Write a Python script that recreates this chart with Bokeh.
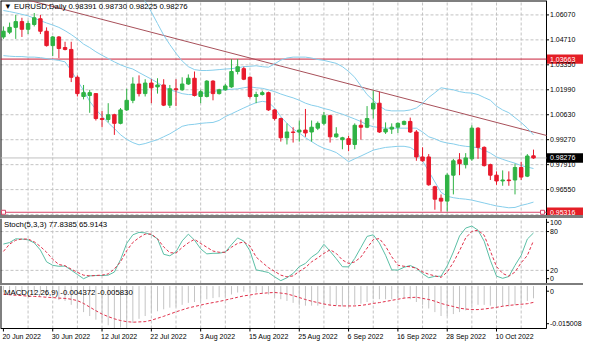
import numpy as np
from bokeh.plotting import figure
from bokeh.models import ColumnDataSource, Range1d, Label, Div
from bokeh.layouts import column
from bokeh.embed import file_html
from bokeh.resources import INLINE

nan = float("nan")

# ---------------- data (EURUSD daily, 20 Jun 2022 .. 18 Oct 2022) ----------------
open_ = [1.04868, 1.05129, 1.05391, 1.05704, 1.05286, 1.05548, 1.05861, 1.05181, 1.04397, 1.04868,
         1.04292, 1.04188, 1.02671, 1.01625, 1.01677, 1.01782, 1.00422, 1.00370, 1.00631, 1.00161,
         1.00893, 1.01416, 1.02305, 1.01782, 1.02357, 1.02148, 1.02253, 1.01154, 1.02043, 1.01991,
         1.02305, 1.02619, 1.01625, 1.01625, 1.02462, 1.01782, 1.01991, 1.02148, 1.02985, 1.03142,
         1.02671, 1.01625, 1.01730, 1.01834, 1.00893, 1.00422, 0.99376, 0.99690, 0.99690, 0.99794,
         0.99690, 0.99899, 1.00161, 1.00579, 0.99428, 0.99271, 0.99324, 0.99010, 1.00056, 0.99951,
         1.00945, 1.01259, 0.99690, 0.99847, 0.99951, 1.00108, 1.00265, 0.99690, 0.98330, 0.98330,
         0.96709, 0.96081, 0.95924, 0.97336, 0.98173, 0.97912, 0.98226, 0.99899, 0.98853, 0.97912,
         0.97336, 0.97023, 0.97075, 0.97075, 0.97755, 0.97284, 0.98391]
high = [1.05443, 1.05652, 1.06071, 1.05914, 1.05757, 1.06175, 1.06071, 1.05391, 1.04920, 1.04920,
        1.04606, 1.04606, 1.02776, 1.02253, 1.01991, 1.01782, 1.00841, 1.01259, 1.00684, 1.00997,
        1.02043, 1.02671, 1.02776, 1.02566, 1.02566, 1.02619, 1.02566, 1.02253, 1.02566, 1.02671,
        1.02828, 1.02985, 1.01991, 1.02514, 1.02514, 1.02043, 1.02305, 1.03665, 1.03665, 1.03246,
        1.02723, 1.01887, 1.01939, 1.01887, 1.00945, 1.00474, 1.00161, 0.99951, 1.00317, 1.00945,
        1.00317, 1.00265, 1.00788, 1.00631, 0.99951, 0.99428, 0.99481, 1.00161, 1.00370, 1.01102,
        1.01939, 1.01887, 1.00213, 1.00161, 1.00213, 1.00317, 1.00474, 0.99794, 0.98853, 0.98487,
        0.96761, 0.96290, 0.97441, 0.98226, 0.98539, 0.98539, 1.00056, 0.99951, 0.98905, 0.97964,
        0.97546, 0.97598, 0.97546, 0.97964, 0.98069, 0.98487, 0.98730]
low = [1.04763, 1.05025, 1.04763, 1.04868, 1.05025, 1.05443, 1.05025, 1.04345, 1.03822, 1.03717,
       1.04135, 1.02410, 1.01625, 1.01468, 1.00736, 1.00317, 0.99951, 1.00213, 0.99533, 1.00108,
       1.00841, 1.01259, 1.01625, 1.01625, 1.01259, 1.01782, 1.01102, 1.00997, 1.01102, 1.01939,
       1.02253, 1.01625, 1.01259, 1.01573, 1.01416, 1.01730, 1.01939, 1.02096, 1.02828, 1.02514,
       1.01520, 1.01259, 1.01677, 1.00841, 1.00317, 0.99167, 0.99010, 0.99115, 0.99167, 0.99428,
       0.99167, 0.99794, 1.00056, 0.99115, 0.99376, 0.98749, 0.98644, 0.98749, 0.99271, 0.99899,
       1.00422, 0.99638, 0.99585, 0.99585, 0.99638, 1.00056, 0.99638, 0.98121, 0.98069, 0.96761,
       0.95454, 0.95349, 0.95350, 0.96290, 0.97336, 0.97703, 0.98121, 0.98226, 0.97807, 0.97075,
       0.96813, 0.96761, 0.96761, 0.96290, 0.97075, 0.97232, 0.98225]
close = [1.05181, 1.05391, 1.05704, 1.05286, 1.05600, 1.05914, 1.05181, 1.04397, 1.04868, 1.04240,
         1.04188, 1.02671, 1.01782, 1.01834, 1.01834, 1.00422, 1.00370, 1.00631, 1.00161, 1.00893,
         1.01416, 1.02305, 1.01782, 1.02357, 1.02096, 1.02253, 1.01154, 1.02043, 1.01991, 1.02305,
         1.02619, 1.01677, 1.01887, 1.02462, 1.01782, 1.01991, 1.02200, 1.02985, 1.03246, 1.02566,
         1.01625, 1.01730, 1.01834, 1.00893, 1.00422, 0.99376, 0.99690, 0.99664, 0.99794, 0.99638,
         0.99951, 1.00161, 1.00579, 0.99428, 0.99585, 0.99376, 0.99010, 1.00056, 0.99951, 1.00422,
         1.01259, 0.99690, 0.99847, 0.99951, 1.00161, 1.00265, 0.99690, 0.98330, 0.98121, 0.96813,
         0.96029, 0.95924, 0.97336, 0.98121, 0.97964, 0.98278, 0.99899, 0.98853, 0.97859, 0.97336,
         0.97023, 0.97075, 0.97040, 0.97755, 0.97232, 0.98382, 0.98276]

bb_upper = [nan] * 22 + [
    1.0748, 1.0680, 1.0623, 1.0560, 1.0497, 1.0445, 1.0398, 1.0356, 1.0325, 1.0309,
    1.0304, 1.0304, 1.0306, 1.0309, 1.0312, 1.0314, 1.0319, 1.0325, 1.0327, 1.0330,
    1.0325, 1.0322, 1.0340, 1.0361, 1.0372, 1.0377, 1.0377, 1.0377, 1.0372, 1.0364,
    1.0359, 1.0351, 1.0343, 1.0325, 1.0299, 1.0267, 1.0220, 1.0173, 1.0142, 1.0110,
    1.0089, 1.0084, 1.0084, 1.0084, 1.0089, 1.0100, 1.0126, 1.0157, 1.0183, 1.0210,
    1.0204, 1.0199, 1.0189, 1.0183, 1.0181, 1.0173, 1.0157, 1.0142, 1.0110, 1.0089,
    1.0074, 1.0047, 1.0021, 0.9990, 0.9953]
bb_middle = [1.0631, 1.0625, 1.0618, 1.0610, 1.0602, 1.0589, 1.0576, 1.0563, 1.0552, 1.0539,
             1.0521, 1.0500, 1.0476, 1.0448, 1.0429, 1.0406, 1.0387, 1.0369, 1.0351, 1.0335,
             1.0322, 1.0312, 1.0293, 1.0275, 1.0257, 1.0238, 1.0215, 1.0199, 1.0189, 1.0178,
             1.0173, 1.0173, 1.0178, 1.0183, 1.0189, 1.0196, 1.0199, 1.0202, 1.0204, 1.0210,
             1.0215, 1.0210, 1.0207, 1.0199, 1.0189, 1.0176, 1.0165, 1.0155, 1.0142, 1.0126,
             1.0115, 1.0108, 1.0097, 1.0089, 1.0076, 1.0066, 1.0053, 1.0040, 1.0026, 1.0008,
             0.9998, 0.9993, 0.9990, 0.9990, 0.9990, 0.9990, 0.9990, 0.9990, 0.9969, 0.9943,
             0.9932, 0.9917, 0.9909, 0.9904, 0.9896, 0.9891, 0.9888, 0.9883, 0.9870, 0.9854,
             0.9833, 0.9820, 0.9809, 0.9799, 0.9786, 0.9778, 0.9770]
bb_lower = [1.0385, 1.0382, 1.0380, 1.0380, 1.0377, 1.0377, 1.0374, 1.0369, 1.0364, 1.0359,
            1.0351, 1.0303, 1.0249, 1.0196, 1.0136, 1.0092, 1.0055, 1.0019, 0.9988, 0.9954,
            0.9929, 0.9911, 0.9899, 0.9906, 0.9917, 0.9927, 0.9943, 0.9959, 0.9979, 1.0000,
            1.0008, 1.0011, 1.0016, 1.0019, 1.0021, 1.0032, 1.0053, 1.0068, 1.0084, 1.0100,
            1.0115, 1.0129, 1.0136, 1.0131, 1.0100, 1.0053, 1.0016, 0.9985, 0.9964, 0.9938,
            0.9917, 0.9896, 0.9880, 0.9870, 0.9857, 0.9833, 0.9807, 0.9823, 0.9838, 0.9854,
            0.9870, 0.9878, 0.9885, 0.9888, 0.9891, 0.9891, 0.9885, 0.9864, 0.9812, 0.9755,
            0.9697, 0.9640, 0.9619, 0.9611, 0.9606, 0.9603, 0.9598, 0.9590, 0.9582, 0.9574,
            0.9566, 0.9561, 0.9556, 0.9558, 0.9569, 0.9577, 0.9587]

stoch_main = [60.7, 63.0, 68.8, 68.4, 67.2, 62.5, 51.4, 33.2, 27.8, 26.3,
              26.6, 20.4, 13.7, 7.1, 11.5, 12.0, 12.0, 12.6, 17.4, 36.5,
              61.7, 75.0, 78.7, 78.0, 75.0, 68.7, 44.9, 42.5, 48.7, 65.6,
              76.0, 66.8, 53.3, 45.5, 46.4, 46.5, 48.4, 59.7, 70.2, 65.3,
              50.2, 20.8, 18.8, 16.7, 10.0, 4.1, 8.6, 15.2, 25.8, 30.7,
              40.6, 47.0, 60.3, 49.6, 38.1, 25.6, 25.4, 38.4, 55.4, 72.5,
              75.0, 62.3, 43.4, 20.8, 20.4, 24.8, 27.5, 23.3, 14.9, 8.6,
              10.8, 10.9, 26.9, 48.4, 73.1, 85.4, 88.6, 82.1, 65.1, 35.6,
              11.1, 7.7, 10.5, 27.8, 43.1, 68.4, 77.8385]
stoch_signal = [49.3, 60.6, 66.6, 68.4, 68.5, 64.1, 56.9, 48.0, 37.1, 29.0,
                27.2, 21.9, 17.0, 12.6, 11.5, 12.1, 12.7, 14.5, 22.2, 33.2,
                50.4, 63.2, 70.6, 76.1, 76.1, 68.8, 56.3, 47.4, 46.7, 55.4,
                62.6, 68.0, 61.6, 55.8, 49.9, 48.0, 48.0, 55.8, 61.7, 63.9,
                57.7, 40.6, 32.2, 24.2, 18.5, 12.6, 10.0, 11.5, 18.5, 24.4,
                33.2, 39.3, 46.2, 51.8, 46.2, 36.0, 30.7, 33.1, 40.6, 54.4,
                67.6, 69.1, 57.3, 41.0, 28.0, 26.3, 25.6, 23.3, 17.7, 14.0,
                11.5, 9.2, 17.4, 32.2, 50.4, 70.2, 80.3, 82.1, 74.3, 50.0,
                25.8, 15.2, 11.1, 17.4, 31.8, 43.0, 65.9143]

macd_main = [-0.0023, -0.0025, -0.0025, -0.0027, -0.0027, -0.0027, -0.0030, -0.0037, -0.0043, -0.0050,
             -0.0053, -0.0067, -0.0080, -0.0093, -0.0107, -0.0120, -0.0130, -0.0140, -0.0150, -0.0148,
             -0.0142, -0.0132, -0.0117, -0.0107, -0.0097, -0.0090, -0.0083, -0.0077, -0.0073, -0.0067,
             -0.0060, -0.0057, -0.0053, -0.0047, -0.0043, -0.0040, -0.0037, -0.0030, -0.0023, -0.0020,
             -0.0020, -0.0023, -0.0027, -0.0030, -0.0037, -0.0047, -0.0053, -0.0060, -0.0067, -0.0070,
             -0.0070, -0.0070, -0.0067, -0.0070, -0.0070, -0.0073, -0.0073, -0.0067, -0.0063, -0.0057,
             -0.0047, -0.0047, -0.0047, -0.0047, -0.0043, -0.0043, -0.0047, -0.0057, -0.0067, -0.0080,
             -0.0093, -0.0107, -0.0107, -0.0100, -0.0093, -0.0087, -0.0073, -0.0067, -0.0067, -0.0070,
             -0.0073, -0.0073, -0.0073, -0.0067, -0.0063, -0.0053, -0.004372]
macd_signal = [-0.0029, -0.0031, -0.0033, -0.0034, -0.0036, -0.0037, -0.0038, -0.0040, -0.0041, -0.0043,
               -0.0044, -0.0047, -0.0052, -0.0062, -0.0075, -0.0088, -0.0100, -0.0109, -0.0117, -0.0123,
               -0.0127, -0.0129, -0.0128, -0.0127, -0.0122, -0.0115, -0.0108, -0.0100, -0.0092, -0.0085,
               -0.0078, -0.0073, -0.0068, -0.0063, -0.0059, -0.0055, -0.0050, -0.0045, -0.0040, -0.0035,
               -0.0032, -0.0028, -0.0026, -0.0024, -0.0023, -0.0025, -0.0028, -0.0034, -0.0041, -0.0048,
               -0.0054, -0.0059, -0.0064, -0.0068, -0.0070, -0.0071, -0.0071, -0.0071, -0.0069, -0.0066,
               -0.0062, -0.0059, -0.0055, -0.0051, -0.0047, -0.0043, -0.0041, -0.0040, -0.0044, -0.0048,
               -0.0054, -0.0062, -0.0068, -0.0073, -0.0079, -0.0082, -0.0084, -0.0084, -0.0082, -0.0079,
               -0.0076, -0.0072, -0.0069, -0.0067, -0.0065, -0.0063, -0.005830]

date_ticks = [0, 8, 16, 24, 32, 40, 48, 56, 64, 72, 80]
date_labels = ["20 Jun 2022", "30 Jun 2022", "12 Jul 2022", "22 Jul 2022", "3 Aug 2022",
               "15 Aug 2022", "25 Aug 2022", "6 Sep 2022", "16 Sep 2022", "28 Sep 2022", "10 Oct 2022"]
grid_bars = list(range(4, 88, 4))
price_ticks = [1.06070, 1.04710, 1.03350, 1.01990, 1.00630, 0.99270, 0.97910, 0.96550]
price_tick_labels = ["1.06070", "1.04710", "1.03350", "1.01990", "1.00630", "0.99270", "0.97910", "0.96550"]
grid_prices = price_ticks + [0.95190]
hline_upper = 1.03663
hline_lower = 0.95316
bid_price = 0.98276
tag_prices = [hline_upper, bid_price, hline_lower]
tag_labels = ["1.03663", "0.98276", "0.95316"]
trend_x = [0.0, 88.11]
trend_y = [1.0723, 0.9950]
stoch_levels = [20, 80]
stoch_label_text = ["100", "80", "20", "0"]
macd_label_text = ["0", "-0.015008"]
header_main = "\u25bc EURUSD,Daily  0.98391 0.98730 0.98225 0.98276"
header_stoch = "Stoch(5,3,3) 77.8385 65.9143"
header_macd = "MACD(12,26,9) -0.004372 -0.005830"

# ---------------- styling / geometry ----------------
GREEN = "#2fb344"
RED = "#e8192c"
BBC = "#87ceeb"
TREND = "#a8505a"
HLC = "#c8203a"
HL2 = "#d9466a"
GRID = "#c3c3c3"
STM = "#5cbfa6"
SIG = "#e0304a"
HIST = "#c4c4c4"
TAGRED = "#e41e26"
FONT = "Liberation Sans"
FS = "7px"
FSH = "7.8px"

W = 583            # page width
CW = 546           # chart area width (to the price-scale border)
H1, H2, H3, HB = 215, 65, 43, 18
X0, X1 = -0.474, 88.11          # chart area in bar units
PXX = (X1 - X0) / CW            # bar units per pixel
XE = X0 + W * PXX               # right edge of page (price scale area)
xr = Range1d(X0, XE)
idx = list(range(len(close)))


def panel(h, y0, y1):
    p = figure(width=W, height=h, x_range=xr, y_range=Range1d(y0, y1), output_backend="svg",
               toolbar_location=None, x_axis_location=None, y_axis_location=None,
               min_border_left=0, min_border_right=0, min_border_top=0, min_border_bottom=0)
    p.outline_line_color = None
    p.background_fill_color = "white"
    p.border_fill_color = "white"
    p.xgrid.visible = False
    p.ygrid.visible = False
    return p


def frame(p, yb, yt, top=False):
    n = len(grid_bars)
    p.segment(x0=grid_bars, y0=[yb] * n, x1=grid_bars, y1=[yt] * n,
              line_color=GRID, line_width=1, line_dash="3 2")
    p.segment(x0=[X1], y0=[yb], x1=[X1], y1=[yt], line_color="black", line_width=1)
    p.segment(x0=[X0], y0=[yb], x1=[X0], y1=[yt], line_color="black", line_width=2)
    if top:
        p.segment(x0=[X0], y0=[yt], x1=[X1], y1=[yt], line_color="black", line_width=2)


def hgrid(p, levels):
    n = len(levels)
    p.segment(x0=[X0] * n, y0=levels, x1=[X1] * n, y1=levels,
              line_color=GRID, line_width=1, line_dash="3 2")


def scale_text(p, ys, texts, color="black"):
    n = len(ys)
    p.segment(x0=[X1] * n, y0=ys, x1=[X1 + 2.5 * PXX] * n, y1=ys, line_color="black", line_width=1)
    for y, t in zip(ys, texts):
        p.add_layout(Label(x=X1 + 3.5 * PXX, y=y, text=t, text_align="left", text_baseline="middle",
                           text_font=FONT, text_font_size=FS, text_color=color))


def header(p, y, text):
    p.add_layout(Label(x=X0 + 3.5 * PXX, y=y, text=text, text_align="left", text_baseline="middle",
                       text_font=FONT, text_font_size=FSH, text_color="black"))


# ---------------- main price panel ----------------
YB1, YT1 = 0.95140, 1.06855
PY1 = (YT1 - YB1) / H1
p1 = panel(H1, YB1, YT1)
hgrid(p1, grid_prices)
frame(p1, YB1, YT1, top=True)

p1.segment(x0=[X0], y0=[bid_price], x1=[X1], y1=[bid_price], line_color="#c0c0c0", line_width=1)
p1.segment(x0=[X0], y0=[hline_upper], x1=[X1], y1=[hline_upper], line_color=HLC, line_width=1)
p1.segment(x0=[X0], y0=[hline_lower], x1=[X1], y1=[hline_lower], line_color=HL2, line_width=1)
p1.line(trend_x, trend_y, line_color=TREND, line_width=1)

p1.line(idx, bb_upper, line_color=BBC, line_width=1)
p1.line(idx, bb_middle, line_color=BBC, line_width=1)
p1.line(idx, bb_lower, line_color=BBC, line_width=1)

colors = [GREEN if c >= o else RED for o, c in zip(open_, close)]
src = ColumnDataSource(dict(x=idx, h=high, l=low,
                            top=[max(o, c) for o, c in zip(open_, close)],
                            bot=[min(o, c) for o, c in zip(open_, close)],
                            color=colors))
p1.segment(x0="x", y0="l", x1="x", y1="h", line_color="color", line_width=1, source=src)
p1.vbar(x="x", width=0.56, top="top", bottom="bot", fill_color="color", line_color="color",
        line_width=1, source=src)

p1.scatter([X0 + 3 * PXX, X1 - 4 * PXX], [hline_lower, hline_lower], marker="square", size=4,
           fill_color="white", line_color=HL2, line_width=1)

scale_text(p1, price_ticks, price_tick_labels)
tag_fill = [TAGRED, "#000000", TAGRED]
p1.quad(left=[X1 + 0.5 * PXX] * 3, right=[XE] * 3,
        top=[t + 4.7 * PY1 for t in tag_prices], bottom=[t - 4.7 * PY1 for t in tag_prices],
        fill_color=tag_fill, line_color=None)
for t, s in zip(tag_prices, tag_labels):
    p1.add_layout(Label(x=X1 + 3.5 * PXX, y=t, text=s, text_align="left", text_baseline="middle",
                        text_font=FONT, text_font_size=FS, text_color="white"))
header(p1, YT1 - 6 * PY1, header_main)

sep1 = Div(text="", width=W, height=3, margin=(0, 0, 0, 0),
           styles={"background-color": "#7d7d7d"})

# ---------------- stochastic panel ----------------
YB2, YT2 = -0.3, 100.2
PY2 = (YT2 - YB2) / H2
p2 = panel(H2, YB2, YT2)
hgrid(p2, stoch_levels)
frame(p2, YB2, YT2)
p2.line(idx, stoch_main, line_color=STM, line_width=1)
p2.line(idx, stoch_signal, line_color=SIG, line_width=1, line_dash="3 2")
scale_text(p2, [YT2 - 3.8 * PY2, 80, 20, YB2 + 4.8 * PY2], stoch_label_text)
header(p2, YT2 - 6 * PY2, header_stoch)

sep2 = Div(text="", width=W, height=2, margin=(0, 0, 0, 0),
           styles={"background-color": "#7d7d7d"})

# ---------------- MACD panel + time scale ----------------
YB3, YT3 = -0.01515, 0.0002
PY3 = (YT3 - YB3) / H3
YBOT = YB3 - HB * PY3
p3 = panel(H3 + HB, YBOT, YT3)
frame(p3, YB3, YT3)
p3.segment(x0=idx, y0=[0.0] * len(idx), x1=idx, y1=macd_main, line_color=HIST, line_width=1)
p3.line(idx, macd_signal, line_color=SIG, line_width=1, line_dash="3 2")
p3.segment(x0=[X0], y0=[YB3], x1=[X1], y1=[YB3], line_color="black", line_width=1)
scale_text(p3, [YT3 - 5.7 * PY3, YB3 + 4.8 * PY3], macd_label_text)
header(p3, YT3 - 6.5 * PY3, header_macd)

nd = len(date_ticks)
p3.segment(x0=date_ticks, y0=[YB3] * nd, x1=date_ticks, y1=[YB3 - 3 * PY3] * nd,
           line_color="black", line_width=1)
for t, s in zip(date_ticks, date_labels):
    p3.add_layout(Label(x=t - 1 * PXX, y=YB3 - 4 * PY3, text=s, text_align="left",
                        text_baseline="top", text_font=FONT, text_font_size=FS,
                        text_color="black"))

layout = column(p1, sep1, p2, sep2, p3, spacing=0)
open("out.html", "w").write(file_html(layout, INLINE))
